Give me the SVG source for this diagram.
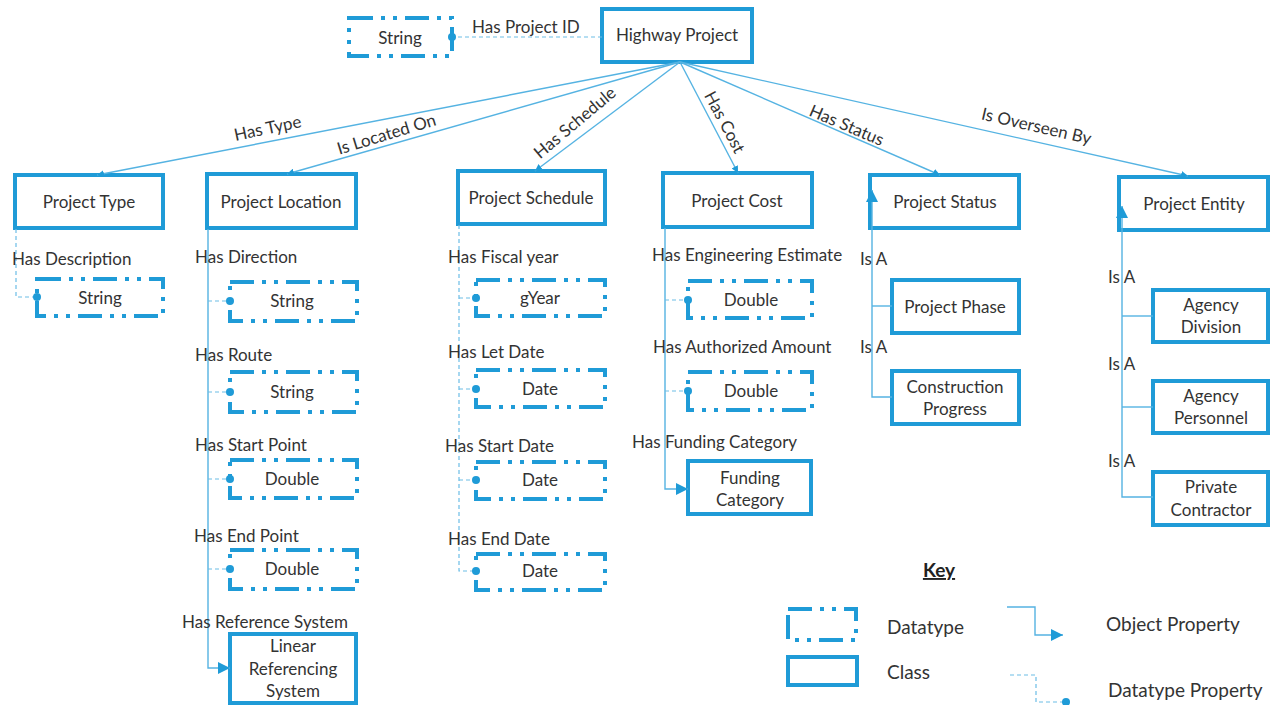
<svg xmlns="http://www.w3.org/2000/svg" width="1276" height="705" viewBox="0 0 1276 705">
<defs>
<style>
.cls{fill:#fff;stroke:#1f9bd7;stroke-width:4}
.dt{fill:#fff;stroke:#1f9bd7;stroke-width:4;stroke-dasharray:24 8 4 8 4 8}
.t{font-family:Lato,"Liberation Sans",sans-serif;font-size:17px;fill:#333}
.k{font-size:19px}
.c{text-anchor:middle}
.ln{fill:none;stroke:#55b3e2;stroke-width:1.4}
.dl{fill:none;stroke:#6cbde6;stroke-width:1.2;stroke-dasharray:4 3}
</style>
<marker id="arr" viewBox="0 0 10 10" refX="10" refY="5" markerWidth="7" markerHeight="7" orient="auto" markerUnits="userSpaceOnUse"><path d="M0,0L10,5L0,10z" fill="#1f9bd7"/></marker>
<marker id="arrB" viewBox="0 0 10 10" refX="10" refY="5" markerWidth="12" markerHeight="12" orient="auto" markerUnits="userSpaceOnUse"><path d="M0,0L10,5L0,10z" fill="#1f9bd7"/></marker>
<marker id="dot" viewBox="0 0 10 10" refX="5" refY="5" markerWidth="8" markerHeight="8" markerUnits="userSpaceOnUse"><circle cx="5" cy="5" r="5" fill="#1f9bd7"/></marker>
</defs>

<g id="highway-project"><rect class="cls" x="602" y="9" width="150" height="53"/><text class="t c" x="677" y="41">Highway Project</text></g>
<g id="string-id"><rect class="dt" x="349" y="18" width="103" height="38"/><text class="t c" x="400" y="44">String</text></g>

<g id="project-type"><rect class="cls" x="15" y="175" width="148" height="53"/><text class="t c" x="89" y="208">Project Type</text></g>
<g id="pt-string"><rect class="dt" x="37" y="279" width="126" height="37"/><text class="t c" x="100" y="304">String</text></g>

<g id="project-location"><rect class="cls" x="207" y="174" width="149" height="54"/><text class="t c" x="281" y="208">Project Location</text></g>
<g id="pl-direction"><rect class="dt" x="230" y="282" width="127" height="39"/><text class="t c" x="292" y="307">String</text></g>
<g id="pl-route"><rect class="dt" x="230" y="372" width="127" height="40"/><text class="t c" x="292" y="398">String</text></g>
<g id="pl-start"><rect class="dt" x="230" y="460" width="127" height="38"/><text class="t c" x="292" y="485">Double</text></g>
<g id="pl-end"><rect class="dt" x="230" y="550" width="127" height="39"/><text class="t c" x="292" y="575">Double</text></g>
<g id="linear-referencing"><rect class="cls" x="230" y="634" width="126" height="69"/><text class="t c" x="293" y="652">Linear</text><text class="t c" x="293" y="675">Referencing</text><text class="t c" x="293" y="697">System</text></g>

<g id="project-schedule"><rect class="cls" x="458" y="171" width="147" height="53"/><text class="t c" x="531" y="204">Project Schedule</text></g>
<g id="ps-fiscal"><rect class="dt" x="476" y="280" width="129" height="36"/><text class="t c" x="540" y="304">gYear</text></g>
<g id="ps-let"><rect class="dt" x="476" y="370" width="129" height="37"/><text class="t c" x="540" y="395">Date</text></g>
<g id="ps-start"><rect class="dt" x="476" y="462" width="129" height="37"/><text class="t c" x="540" y="486">Date</text></g>
<g id="ps-end"><rect class="dt" x="476" y="554" width="129" height="36"/><text class="t c" x="540" y="577">Date</text></g>

<g id="project-cost"><rect class="cls" x="663" y="173" width="149" height="54"/><text class="t c" x="737" y="207">Project Cost</text></g>
<g id="pc-eng"><rect class="dt" x="688" y="281" width="124" height="37"/><text class="t c" x="751" y="306">Double</text></g>
<g id="pc-auth"><rect class="dt" x="688" y="372" width="124" height="38"/><text class="t c" x="751" y="397">Double</text></g>
<g id="funding-category"><rect class="cls" x="688" y="461" width="123" height="53"/><text class="t c" x="750" y="484">Funding</text><text class="t c" x="750" y="506">Category</text></g>

<g id="project-status"><rect class="cls" x="870" y="175" width="149" height="53"/><text class="t c" x="945" y="208">Project Status</text></g>
<g id="project-phase"><rect class="cls" x="892" y="280" width="127" height="53"/><text class="t c" x="955" y="313">Project Phase</text></g>
<g id="construction-progress"><rect class="cls" x="892" y="371" width="127" height="53"/><text class="t c" x="955" y="393">Construction</text><text class="t c" x="955" y="415">Progress</text></g>

<g id="project-entity"><rect class="cls" x="1119" y="177" width="149" height="53"/><text class="t c" x="1194" y="210">Project Entity</text></g>
<g id="agency-division"><rect class="cls" x="1153" y="290" width="115" height="52"/><text class="t c" x="1211" y="311">Agency</text><text class="t c" x="1211" y="333">Division</text></g>
<g id="agency-personnel"><rect class="cls" x="1153" y="381" width="115" height="52"/><text class="t c" x="1211" y="402">Agency</text><text class="t c" x="1211" y="424">Personnel</text></g>
<g id="private-contractor"><rect class="cls" x="1153" y="472" width="115" height="53"/><text class="t c" x="1211" y="493">Private</text><text class="t c" x="1211" y="516">Contractor</text></g>

<g id="connectors">
<path class="dl" d="M602,37H452" marker-end="url(#dot)"/>
<path class="ln" d="M680,62L97,175" marker-end="url(#arr)"/>
<path class="ln" d="M680,62L287,174" marker-end="url(#arr)"/>
<path class="ln" d="M680,62L535,171" marker-end="url(#arr)"/>
<path class="ln" d="M680,62L738,173" marker-end="url(#arr)"/>
<path class="ln" d="M680,62L940,175" marker-end="url(#arr)"/>
<path class="ln" d="M680,62L1188,176" marker-end="url(#arr)"/>
<path class="dl" d="M16,229V297H37" marker-end="url(#dot)"/>
<path class="ln" d="M208,229V668H230" marker-end="url(#arrB)"/>
<path class="dl" d="M208,301H230" marker-end="url(#dot)"/>
<path class="dl" d="M208,392H230" marker-end="url(#dot)"/>
<path class="dl" d="M208,479H230" marker-end="url(#dot)"/>
<path class="dl" d="M208,569H230" marker-end="url(#dot)"/>
<path class="dl" d="M459,225V571H476" marker-end="url(#dot)"/>
<path class="dl" d="M459,298H476" marker-end="url(#dot)"/>
<path class="dl" d="M459,389H476" marker-end="url(#dot)"/>
<path class="dl" d="M459,480H476" marker-end="url(#dot)"/>
<path class="ln" d="M665,228V489H688" marker-end="url(#arrB)"/>
<path class="dl" d="M665,300H688" marker-end="url(#dot)"/>
<path class="dl" d="M665,391H688" marker-end="url(#dot)"/>
<path class="ln" d="M892,397H872V190" marker-end="url(#arrB)"/>
<path class="ln" d="M872,306H892"/>
<path class="ln" d="M1153,497H1122V206" marker-end="url(#arrB)"/>
<path class="ln" d="M1122,316H1153"/>
<path class="ln" d="M1122,407H1153"/>
</g>

<g id="edge-labels" class="t">
<text x="472" y="33">Has Project ID</text>
<text x="268" y="134" class="c" transform="rotate(-12 268 130)">Has Type</text>
<text x="387" y="140" class="c" transform="rotate(-17 387 136)">Is Located On</text>
<text x="576" y="128" class="c" transform="rotate(-40 576 124)">Has Schedule</text>
<text x="723" y="127" class="c" transform="rotate(62 723 123)">Has Cost</text>
<text x="846" y="131" class="c" transform="rotate(23 846 127)">Has Status</text>
<text x="1036" y="132" class="c" transform="rotate(13 1036 128)">Is Overseen By</text>
<text x="12" y="265">Has Description</text>
<text x="195" y="263">Has Direction</text>
<text x="195" y="361">Has Route</text>
<text x="195" y="451">Has Start Point</text>
<text x="194" y="542">Has End Point</text>
<text x="182" y="628">Has Reference System</text>
<text x="448" y="263">Has Fiscal year</text>
<text x="448" y="358">Has Let Date</text>
<text x="445" y="452">Has Start Date</text>
<text x="448" y="545">Has End Date</text>
<text x="652" y="261">Has Engineering Estimate</text>
<text x="653" y="353">Has Authorized Amount</text>
<text x="632" y="448">Has Funding Category</text>
<text x="860" y="265">Is A</text>
<text x="860" y="353">Is A</text>
<text x="1108" y="283">Is A</text>
<text x="1108" y="370">Is A</text>
<text x="1108" y="467">Is A</text>
</g>

<g id="key">
<text x="939" y="577" class="c" style="font-family:Lato,'Liberation Sans',sans-serif;font-size:19px;font-weight:bold;fill:#222;text-decoration:underline">Key</text>
<rect class="dt" x="788" y="609" width="68" height="31"/>
<text class="t k" x="887" y="634">Datatype</text>
<rect class="cls" x="788" y="657" width="69" height="28"/>
<text class="t k" x="887" y="679">Class</text>
<path class="ln" d="M1007,607H1035V635H1063" marker-end="url(#arrB)"/>
<text class="t k" x="1106" y="631">Object Property</text>
<path class="dl" d="M1010,675H1036V702H1066" marker-end="url(#dot)"/>
<text class="t k" x="1108" y="697">Datatype Property</text>
</g>
</svg>
